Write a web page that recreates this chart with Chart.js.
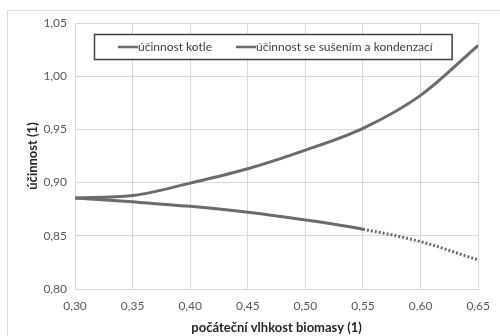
<!DOCTYPE html>
<html lang="cs">
  <head>
    <meta charset="UTF-8" />
    <title>Účinnost kotle</title>
    <style>
      html, body { margin: 0; padding: 0; background: #fff; }
      #wrap { width: 500px; height: 336px; position: relative; }
    </style>
  </head>
  <body>
    <div id="wrap"><canvas id="myChart" width="500" height="336"></canvas></div>

    <script src="https://cdn.jsdelivr.net/npm/chart.js@4/dist/chart.umd.min.js"></script>
    <script>
      // values
      var moisture = [0.30, 0.35, 0.40, 0.45, 0.50, 0.55, 0.60, 0.65];
      var boilerEff = [0.8856, 0.8819, 0.8777, 0.8722, 0.8649, 0.8562, 0.8445, 0.8273];
      var dryingEff = [0.8856, 0.8878, 0.8995, 0.9130, 0.9305, 0.9510, 0.9820, 1.0290];
      var seriesNames = ["účinnost kotle", "účinnost se sušením a kondenzací"];
      var yTitle = "účinnost (1)";
      var xTitle = "počáteční vlhkost biomasy (1)";
      var yTicks = [0.80, 0.85, 0.90, 0.95, 1.00, 1.05];
      var xTicks = [0.30, 0.35, 0.40, 0.45, 0.50, 0.55, 0.60, 0.65];
      var lastMeasured = 5; // boiler line is dotted after 0,55

      var font = "Lato, 'Open Sans', sans-serif";
      var lineColor = "#6b6b6b";

      function pts(ys) {
        var out = [];
        for (var i = 0; i < moisture.length; i++) out.push({ x: moisture[i], y: ys[i] });
        return out;
      }
      function comma(v) {
        return v.toFixed(2).replace(".", ",");
      }

      // outer frame like the excel chart area
      var framePlugin = {
        id: "frame",
        beforeDraw: function (chart) {
          var c = chart.ctx;
          c.save();
          c.strokeStyle = "#d9d9d9";
          c.lineWidth = 1;
          c.strokeRect(7.5, 10.5, 520, 340);
          c.restore();
        },
        afterDraw: function (chart) {
          // y axis title, rotated, next to the tick labels
          var a = chart.chartArea;
          var c = chart.ctx;
          c.save();
          c.translate(33, (a.top + a.bottom) / 2);
          c.rotate(-Math.PI / 2);
          c.font = "bold 13px " + font;
          c.fillStyle = "#262626";
          c.textAlign = "center";
          c.textBaseline = "middle";
          c.fillText(yTitle, 0, 0);
          c.restore();
        },
      };

      // legend box drawn inside the plot area
      var legendPlugin = {
        id: "boxLegend",
        afterDatasetsDraw: function (chart) {
          var c = chart.ctx;
          c.save();
          c.font = "12px " + font;
          var sample = 20, between = 24, padL = 24, padR = 19;
          var w = padL + padR;
          chart.data.datasets.forEach(function (ds, i) {
            w += sample + c.measureText(ds.label).width + (i > 0 ? between : 0);
          });
          var cx = 273, top = 34, h = 25;
          var left = Math.round(cx - w / 2);
          c.fillStyle = "#fff";
          c.fillRect(left, top, w, h);
          c.strokeStyle = "#404040";
          c.lineWidth = 1.5;
          c.strokeRect(left + 0.5, top + 0.5, w, h);
          var x = left + padL;
          var ym = top + h / 2 + 0.5;
          chart.data.datasets.forEach(function (ds, i) {
            if (i > 0) x += between;
            c.strokeStyle = ds.borderColor;
            c.lineWidth = 2.5;
            c.beginPath();
            c.moveTo(x, ym);
            c.lineTo(x + sample, ym);
            c.stroke();
            x += sample;
            c.fillStyle = "#404040";
            c.textBaseline = "middle";
            c.fillText(ds.label, x, ym);
            x += c.measureText(ds.label).width;
          });
          c.restore();
        },
      };

      var ctx = document.getElementById("myChart").getContext("2d");
      var myChart = new Chart(ctx, {
        type: "line",
        data: {
          datasets: [
            {
              label: seriesNames[0],
              data: pts(boilerEff),
              borderColor: lineColor,
              borderWidth: 3,
              pointRadius: 0,
              cubicInterpolationMode: "monotone",
              segment: {
                borderDash: function (s) {
                  return s.p0DataIndex >= lastMeasured ? [2, 2] : undefined;
                },
              },
            },
            {
              label: seriesNames[1],
              data: pts(dryingEff),
              borderColor: lineColor,
              borderWidth: 3,
              pointRadius: 0,
              cubicInterpolationMode: "monotone",
            },
          ],
        },
        options: {
          responsive: false,
          animation: false,
          layout: { padding: { left: 0, right: 19, top: 23, bottom: 0 } },
          plugins: { legend: { display: false }, tooltip: { enabled: false } },
          scales: {
            x: {
              type: "linear",
              min: 0.3,
              max: 0.65,
              afterBuildTicks: function (s) {
                s.ticks = xTicks.map(function (v) { return { value: v }; });
              },
              afterFit: function (s) { s.height = 47; },
              grid: { color: "#d9d9d9", drawTicks: false },
              border: { color: "#d9d9d9" },
              ticks: {
                padding: 10,
                color: "#595959",
                font: { family: font, size: 12 },
                callback: function (v) { return comma(v); },
              },
              title: {
                display: true,
                text: xTitle,
                color: "#262626",
                font: { family: font, size: 13, weight: "bold" },
                padding: { top: 2, bottom: 0 },
              },
            },
            y: {
              min: 0.8,
              max: 1.05,
              afterBuildTicks: function (s) {
                s.ticks = yTicks.map(function (v) { return { value: v }; });
              },
              afterFit: function (s) { s.width = 75; },
              grid: { color: "#d9d9d9", drawTicks: false },
              border: { color: "#d9d9d9" },
              ticks: {
                padding: 8,
                color: "#595959",
                font: { family: font, size: 12 },
                callback: function (v) { return comma(v); },
              },
            },
          },
        },
        plugins: [framePlugin, legendPlugin],
      });
    </script>
  </body>
</html>
